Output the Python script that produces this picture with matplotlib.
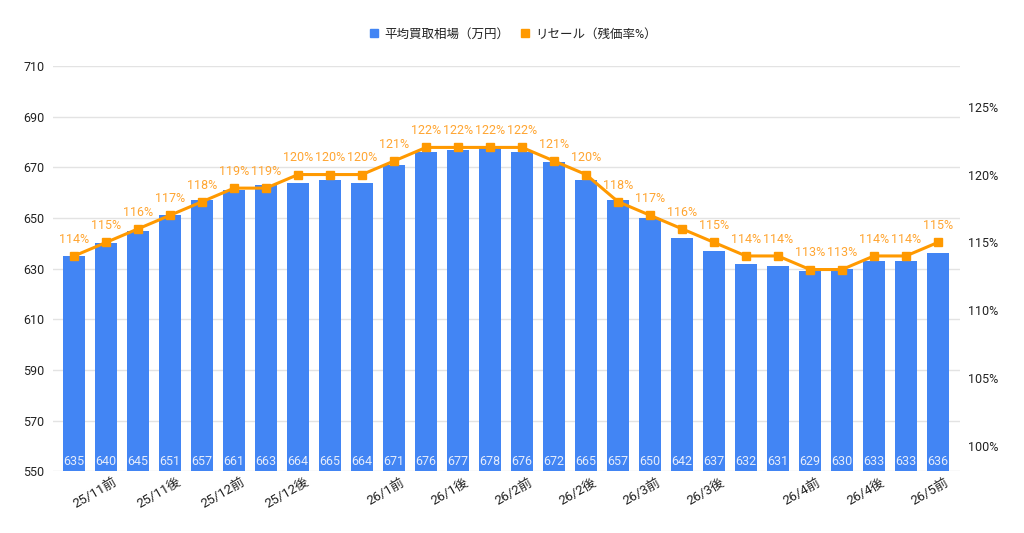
import matplotlib
matplotlib.use("Agg")
import matplotlib.pyplot as plt
from matplotlib.lines import Line2D
import matplotlib.transforms as mtransforms

plt.rcParams['font.family'] = ['Roboto', 'Noto Sans CJK JP', 'DejaVu Sans']

price = [635, 640, 645, 651, 657, 661, 663, 664, 665, 664, 671, 676, 677, 678,
         676, 672, 665, 657, 650, 642, 637, 632, 631, 629, 630, 633, 633, 636]
resale = [114, 115, 116, 117, 118, 119, 119, 120, 120, 120, 121, 122, 122, 122,
          122, 121, 120, 118, 117, 116, 115, 114, 114, 113, 113, 114, 114, 115]
tick_idx = [1, 3, 5, 7, 10, 12, 14, 16, 18, 20, 23, 25, 27]
tick_labels = ['25/11前', '25/11後', '25/12前', '25/12後', '26/1前', '26/1後', '26/2前',
               '26/2後', '26/3前', '26/3後', '26/4前', '26/4後', '26/5前']
left_ticks = [550, 570, 590, 610, 630, 650, 670, 690, 710]
right_ticks = [100, 105, 110, 115, 120, 125]
series_names = ['平均買取相場（万円）', 'リセール（残価率%）']

BLUE = '#4285f4'
ORANGE = '#ff9900'
TXT = '#222222'
FS = 9

fig = plt.figure(figsize=(10.24, 5.33), dpi=100)
ax = fig.add_axes([53/1024, 1-471.3/533, (960-53)/1024, (471.3-66)/533])
x = list(range(len(price)))

ax.bar(x, price, width=0.68, color=BLUE, zorder=2)
ax.set_ylim(550, 710)
ax.set_xlim(-0.66, 27.69)
ax.set_yticks(left_ticks)
ax.grid(axis='y', color='#e3e3e3', linewidth=1, zorder=0)
ax.set_axisbelow(True)
for s in ax.spines.values():
    s.set_visible(False)
ax.tick_params(axis='both', length=0, labelsize=FS, colors=TXT)
ax.tick_params(axis='y', pad=6)

for i, v in enumerate(price):
    ax.annotate(str(v), (i, 550), xytext=(0, 7), textcoords='offset points',
                ha='center', va='center', fontsize=FS, color='#e6edfc', zorder=3)

ax.set_xticks(tick_idx)
ax.set_xticklabels(tick_labels)
offset = mtransforms.ScaledTranslation(10/100, -5/100, fig.dpi_scale_trans)
for lab in ax.get_xticklabels():
    lab.set_rotation(30)
    lab.set_ha('right')
    lab.set_va('center')
    lab.set_rotation_mode('anchor')
    lab.set_fontsize(9.5)
    lab.set_color(TXT)
    lab.set_transform(lab.get_transform() + offset)

ax2 = ax.twinx()
ax2.set_ylim(98.13, 128)
ax2.set_yticks(right_ticks)
ax2.set_yticklabels([f'{t}%' for t in right_ticks])
for s in ax2.spines.values():
    s.set_visible(False)
ax2.tick_params(axis='y', length=0, labelsize=FS, colors=TXT, pad=6)
ax2.plot(x, resale, color=ORANGE, linewidth=2.2, marker='s', markersize=6, zorder=4)
for i, v in enumerate(resale):
    ax2.annotate(f'{v}%', (i, v), xytext=(0, 12), textcoords='offset points',
                 ha='center', va='center', fontsize=FS, color='#ffa531', zorder=5)

handles = [Line2D([], [], color=BLUE, marker='s', linestyle='none', markersize=6),
           Line2D([], [], color=ORANGE, marker='s', linestyle='none', markersize=6)]
fig.legend(handles, series_names, loc='center', bbox_to_anchor=(513/1024, 1-34/533),
           ncol=2, frameon=False, fontsize=FS, handlelength=0.8, handletextpad=0.4,
           columnspacing=0.9, labelcolor=TXT)

fig.savefig('out.png', dpi=100)
